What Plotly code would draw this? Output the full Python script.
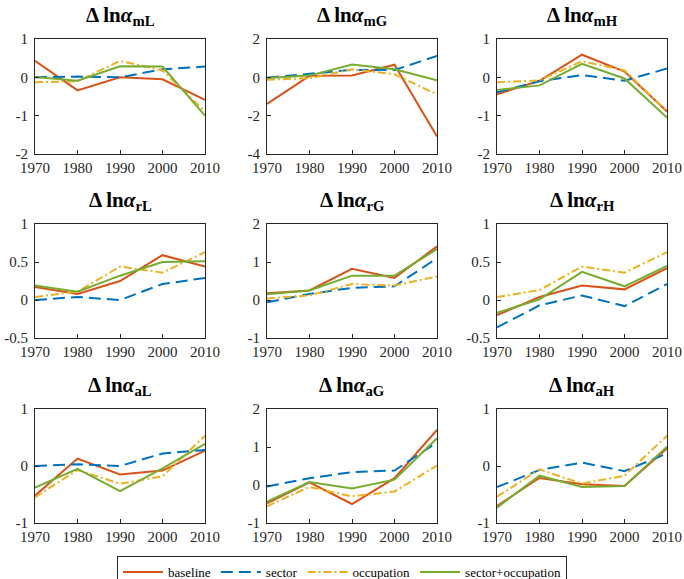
import plotly.graph_objects as go

years = [1970, 1980, 1990, 2000, 2010]
panels = ["mL", "mG", "mH", "rL", "rG", "rH", "aL", "aG", "aH"]
series_names = ["baseline", "sector", "occupation", "sector+occupation"]

baseline = {
    "mL": [0.43, -0.34, 0.00, -0.05, -0.59],
    "mG": [-1.39, 0.08, 0.10, 0.66, -3.09],
    "mH": [-0.44, -0.09, 0.59, 0.15, -0.89],
    "rL": [0.17, 0.08, 0.25, 0.59, 0.44],
    "rG": [0.18, 0.25, 0.82, 0.58, 1.41],
    "rH": [-0.20, 0.04, 0.19, 0.14, 0.42],
    "aL": [-0.52, 0.13, -0.15, -0.08, 0.27],
    "aG": [-0.48, 0.07, -0.50, 0.18, 1.45],
    "aH": [-0.70, -0.21, -0.32, -0.35, 0.31],
}
sector = {
    "mL": [0.00, 0.02, 0.00, 0.21, 0.28],
    "mG": [-0.02, 0.18, 0.39, 0.38, 1.12],
    "mH": [-0.39, -0.10, 0.06, -0.09, 0.23],
    "rL": [0.00, 0.04, 0.00, 0.21, 0.29],
    "rG": [-0.06, 0.16, 0.32, 0.36, 1.10],
    "rH": [-0.36, -0.07, 0.06, -0.08, 0.21],
    "aL": [0.00, 0.03, 0.00, 0.22, 0.28],
    "aG": [-0.04, 0.18, 0.34, 0.38, 1.12],
    "aH": [-0.37, -0.07, 0.06, -0.09, 0.22],
}
occupation = {
    "mL": [-0.13, -0.10, 0.43, 0.18, -0.89],
    "mG": [-0.12, -0.05, 0.42, 0.16, -0.89],
    "mH": [-0.13, -0.08, 0.42, 0.18, -0.89],
    "rL": [0.04, 0.11, 0.44, 0.36, 0.63],
    "rG": [0.04, 0.12, 0.42, 0.38, 0.62],
    "rH": [0.04, 0.13, 0.44, 0.36, 0.63],
    "aL": [-0.55, -0.07, -0.31, -0.18, 0.53],
    "aG": [-0.56, -0.05, -0.30, -0.17, 0.51],
    "aH": [-0.54, -0.06, -0.31, -0.17, 0.53],
}
sector_occupation = {
    "mL": [0.01, -0.09, 0.29, 0.28, -1.00],
    "mG": [-0.03, 0.09, 0.67, 0.42, -0.16],
    "mH": [-0.33, -0.21, 0.35, -0.03, -1.05],
    "rL": [0.19, 0.11, 0.32, 0.50, 0.51],
    "rG": [0.15, 0.25, 0.64, 0.64, 1.34],
    "rH": [-0.17, 0.01, 0.37, 0.18, 0.45],
    "aL": [-0.38, -0.05, -0.44, -0.04, 0.39],
    "aG": [-0.44, 0.08, -0.09, 0.14, 1.23],
    "aH": [-0.73, -0.17, -0.37, -0.35, 0.34],
}
y_ranges = {
    "mL": [-2, 1], "mG": [-4, 2], "mH": [-2, 1],
    "rL": [-0.5, 1], "rG": [-1, 2], "rH": [-0.5, 1],
    "aL": [-1, 1], "aG": [-1, 2], "aH": [-1, 1],
}
y_ticks = {
    "mL": [-2, -1, 0, 1], "mG": [-4, -2, 0, 2], "mH": [-2, -1, 0, 1],
    "rL": [-0.5, 0, 0.5, 1], "rG": [-1, 0, 1, 2], "rH": [-0.5, 0, 0.5, 1],
    "aL": [-1, 0, 1], "aG": [-1, 0, 1, 2], "aH": [-1, 0, 1],
}
x_tick_labels = ["1970", "1980", "1990", "2000", "2010"]

data_sets = [baseline, sector, occupation, sector_occupation]
colors = ["#D95319", "#0072BD", "#EDB120", "#77AC30"]
dashes = ["solid", "12px,6px", "8px,3px,2px,3px", "solid"]

W, H = 684, 579
col_px = [(35, 205), (267, 437), (497, 667)]
row_px = [(39, 154), (224, 338), (409, 523)]
FONT = "Liberation Serif, Times New Roman, serif"
AX = "#262626"

fig = go.Figure()
layout = {}
annotations = []
for i, p in enumerate(panels):
    r, c = divmod(i, 3)
    idx = "" if i == 0 else str(i + 1)
    xa, ya = "x" + idx, "y" + idx
    for s, (name, ds) in enumerate(zip(series_names, data_sets)):
        fig.add_trace(go.Scatter(
            x=years, y=ds[p], mode="lines", name=name,
            line=dict(color=colors[s], width=2, dash=dashes[s]),
            xaxis=xa, yaxis=ya, showlegend=(i == 0),
        ))
    x0, x1 = col_px[c]
    y0, y1 = row_px[r]
    common = dict(showgrid=False, zeroline=False, showline=True, mirror=True,
                  linecolor=AX, linewidth=1, ticks="inside", ticklen=4,
                  tickcolor=AX, automargin=False, ticklabeloverflow="allow",
                  tickfont=dict(family=FONT, size=15, color=AX))
    layout["xaxis" + idx] = dict(domain=[x0 / W, x1 / W], anchor=ya,
                                 range=[1970, 2010], tickvals=years,
                                 ticktext=x_tick_labels, **common)
    layout["yaxis" + idx] = dict(domain=[1 - y1 / H, 1 - y0 / H], anchor=xa,
                                 range=y_ranges[p], tickvals=y_ticks[p],
                                 ticktext=[("%g" % v) for v in y_ticks[p]],
                                 ticklabelstandoff=3,
                                 **common)
    annotations.append(dict(
        x=(x0 + x1) / 2 / W, y=1 - y0 / H, xref="paper", yref="paper",
        xanchor="center", yanchor="bottom", yshift=8, showarrow=False,
        text="<b>Δ ln<i>α</i><sub>" + p[0] + p[1] + "</sub></b>",
        font=dict(family=FONT, size=21, color="black"),
    ))

fig.update_layout(
    width=W, height=H,
    margin=dict(l=0, r=0, t=0, b=0, autoexpand=False),
    paper_bgcolor="white", plot_bgcolor="white",
    annotations=annotations,
    legend=dict(orientation="h", x=0.5, xanchor="center",
                y=1 - 556 / H, yanchor="top",
                bgcolor="white", bordercolor=AX, borderwidth=1,
                font=dict(family=FONT, size=13, color="black"),
                itemwidth=40, tracegroupgap=0),
    **layout,
)
fig.write_html("out.html", config={"displayModeBar": False},
               post_script="document.body.style.margin='0px';document.body.style.padding='0px';")
